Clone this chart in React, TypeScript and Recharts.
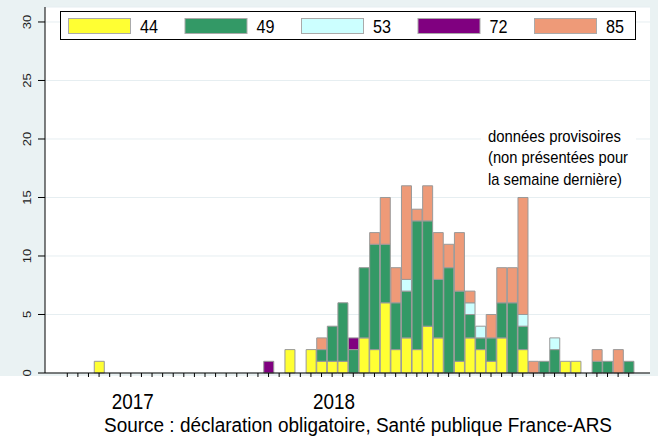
import { BarChart, Bar, XAxis, YAxis, CartesianGrid } from "recharts";

// weekly case counts by department (notification week)
const weeks = [
  "2017-S28", "2017-S29", "2017-S30", "2017-S31", "2017-S32", "2017-S33", "2017-S34", "2017-S35", "2017-S36", "2017-S37",
  "2017-S38", "2017-S39", "2017-S40", "2017-S41", "2017-S42", "2017-S43", "2017-S44", "2017-S45", "2017-S46", "2017-S47",
  "2017-S48", "2017-S49", "2017-S50", "2017-S51", "2017-S52", "2018-S01", "2018-S02", "2018-S03", "2018-S04", "2018-S05",
  "2018-S06", "2018-S07", "2018-S08", "2018-S09", "2018-S10", "2018-S11", "2018-S12", "2018-S13", "2018-S14", "2018-S15",
  "2018-S16", "2018-S17", "2018-S18", "2018-S19", "2018-S20", "2018-S21", "2018-S22", "2018-S23", "2018-S24", "2018-S25",
  "2018-S26", "2018-S27", "2018-S28", "2018-S29",
];

const dept44 = [
  0, 0, 0, 1, 0, 0, 0, 0, 0, 0,
  0, 0, 0, 0, 0, 0, 0, 0, 0, 0,
  0, 2, 0, 2, 1, 1, 1, 0, 3, 2,
  6, 2, 3, 2, 4, 3, 0, 1, 3, 2,
  1, 3, 0, 2, 0, 0, 0, 1, 1, 0,
  0, 0, 0, 0,
];
const dept49 = [
  0, 0, 0, 0, 0, 0, 0, 0, 0, 0,
  0, 0, 0, 0, 0, 0, 0, 0, 0, 0,
  0, 0, 0, 0, 1, 3, 5, 2, 6, 9,
  5, 4, 4, 11, 9, 5, 9, 6, 2, 1,
  2, 3, 6, 2, 0, 1, 2, 0, 0, 0,
  1, 1, 0, 1,
];
const dept53 = [
  0, 0, 0, 0, 0, 0, 0, 0, 0, 0,
  0, 0, 0, 0, 0, 0, 0, 0, 0, 0,
  0, 0, 0, 0, 0, 0, 0, 0, 0, 0,
  0, 0, 1, 0, 0, 0, 0, 0, 1, 1,
  0, 0, 0, 1, 0, 0, 1, 0, 0, 0,
  0, 0, 0, 0,
];
const dept72 = [
  0, 0, 0, 0, 0, 0, 0, 0, 0, 0,
  0, 0, 0, 0, 0, 0, 0, 0, 0, 1,
  0, 0, 0, 0, 0, 0, 0, 1, 0, 0,
  0, 0, 0, 0, 0, 0, 0, 0, 0, 0,
  0, 0, 0, 0, 0, 0, 0, 0, 0, 0,
  0, 0, 0, 0,
];
const dept85 = [
  0, 0, 0, 0, 0, 0, 0, 0, 0, 0,
  0, 0, 0, 0, 0, 0, 0, 0, 0, 0,
  0, 0, 0, 0, 1, 0, 0, 0, 0, 1,
  4, 3, 8, 1, 3, 4, 2, 5, 1, 0,
  2, 3, 3, 10, 1, 0, 0, 0, 0, 0,
  1, 0, 2, 0,
];

const yTicks = [0, 5, 10, 15, 20, 25, 30];
const yearTicks: Record<string, string> = { "2017-S34": "2017", "2018-S01": "2018" };

const series = [
  { key: "d44", name: "44", values: dept44, color: "#FFFF33" },
  { key: "d49", name: "49", values: dept49, color: "#339966" },
  { key: "d53", name: "53", values: dept53, color: "#CCFFFF" },
  { key: "d72", name: "72", values: dept72, color: "#800080" },
  { key: "d85", name: "85", values: dept85, color: "#EE9A78" },
];

const noteLines = ["données provisoires", "(non présentées pour", "la semaine dernière)"];
const noteWidths = [133, 140, 134];
const sourceText = "Source : déclaration obligatoire, Santé publique France-ARS";

const data = weeks.map((week, i) => {
  const row: Record<string, string | number> = { week };
  series.forEach((s) => {
    row[s.key] = s.values[i];
  });
  return row;
});

const FONT = '"Liberation Sans", Arial, sans-serif';

function YTick({ x, y, payload }: any) {
  return (
    <text
      transform={`translate(${x - 5},${y}) rotate(-90) scale(1,0.82)`}
      textAnchor="middle"
      fontSize={13}
      fontFamily={FONT}
      fill="#222"
    >
      {payload.value}
    </text>
  );
}

function XTick({ x, y, payload }: any) {
  const label = yearTicks[payload.value];
  if (!label) return <g />;
  return (
    <text
      x={x + 2}
      y={y + 30}
      textAnchor="middle"
      fontSize={22}
      fontFamily={FONT}
      fill="#000"
      textLength={42}
      lengthAdjust="spacingAndGlyphs"
    >
      {label}
    </text>
  );
}

export default function App() {
  return (
    <div
      style={{
        position: "absolute",
        left: 0,
        top: 0,
        width: 658,
        height: 438,
        background: "#fff",
        fontFamily: FONT,
      }}
    >
      <div
        style={{ position: "absolute", left: 0, top: 0, width: 658, height: 376, background: "#EAF2F3" }}
      />
      <div style={{ position: "absolute", left: 0, top: 0 }}>
        <BarChart
          width={658}
          height={438}
          data={data}
          margin={{ top: 7, right: 8, bottom: 0, left: 0 }}
          barCategoryGap={0.5}
        >
          <CartesianGrid vertical={false} fill="#fff" stroke="#E6EEF1" strokeWidth={1} />
          <XAxis
            dataKey="week"
            interval={0}
            tickSize={4}
            height={65}
            padding={{ left: 17, right: 16 }}
            axisLine={{ stroke: "#000" }}
            tickLine={{ stroke: "#000" }}
            tick={<XTick />}
          />
          <YAxis
            domain={[0, 31.28]}
            ticks={yTicks}
            width={45}
            tickSize={7}
            axisLine={{ stroke: "#000" }}
            tickLine={{ stroke: "#000" }}
            tick={<YTick />}
          />
          {series.map((s) => (
            <Bar
              key={s.key}
              dataKey={s.key}
              name={s.name}
              stackId="a"
              fill={s.color}
              stroke="#999"
              strokeWidth={1}
              isAnimationActive={false}
            />
          ))}
        </BarChart>
      </div>
      <svg
        width={658}
        height={438}
        style={{ position: "absolute", left: 0, top: 0, pointerEvents: "none" }}
      >
        {/* legend */}
        <rect x={60.5} y={11.5} width={575} height={28} fill="#fff" stroke="#000" strokeWidth={1} />
        {series.map((s, i) => (
          <g key={s.key}>
            <rect
              x={68.5 + i * 116.5}
              y={18.5}
              width={62}
              height={15}
              fill={s.color}
              stroke="#aaa"
              strokeWidth={1}
            />
            <text
              x={140 + i * 116.5}
              y={33}
              fontSize={18}
              fontFamily={FONT}
              fill="#000"
              textLength={18}
              lengthAdjust="spacingAndGlyphs"
            >
              {s.name}
            </text>
          </g>
        ))}
        {/* provisional data note */}
        <rect x={481} y={122} width={155} height={68} fill="#fff" />
        {noteLines.map((line, i) => (
          <text
            key={line}
            x={488}
            y={141.5 + i * 21.5}
            fontSize={17}
            fontFamily={FONT}
            fill="#000"
            textLength={noteWidths[i]}
            lengthAdjust="spacingAndGlyphs"
          >
            {line}
          </text>
        ))}
        <text
          x={104}
          y={432}
          fontSize={20}
          fontFamily={FONT}
          fill="#000"
          textLength={508}
          lengthAdjust="spacingAndGlyphs"
        >
          {sourceText}
        </text>
      </svg>
    </div>
  );
}
